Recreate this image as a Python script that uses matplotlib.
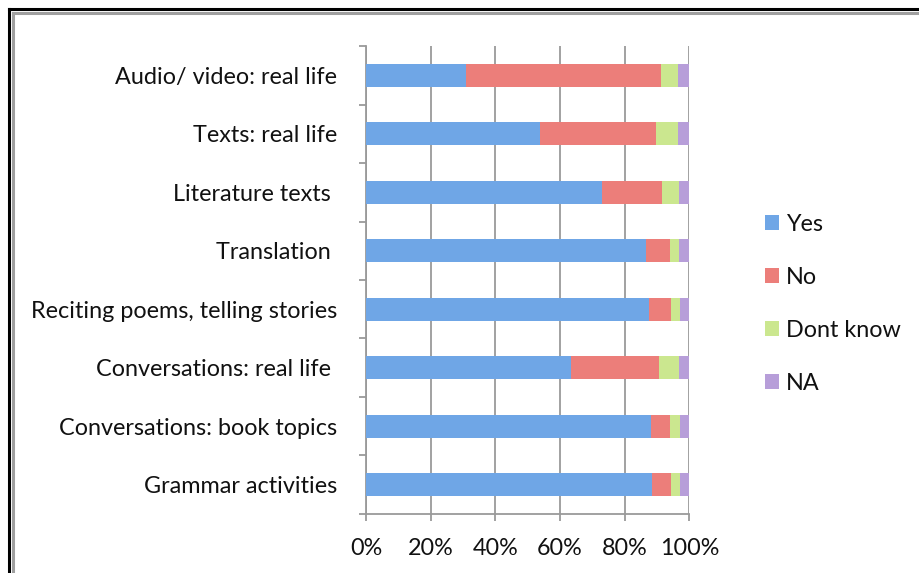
"""Stacked share of answers per classroom activity"""
import matplotlib
matplotlib.use("Agg")
import matplotlib.pyplot as plt
from matplotlib.lines import Line2D
from matplotlib.ticker import MultipleLocator, PercentFormatter

activities = [
    "Grammar activities",
    "Conversations: book topics",
    "Conversations: real life ",
    "Reciting poems, telling stories",
    "Translation ",
    "Literature texts ",
    "Texts: real life",
    "Audio/ video: real life",
]
answers = ["Yes", "No", "Dont know", "NA"]

# percent of respondents, bottom row first
yes = [88.4, 88.0, 63.5, 87.6, 86.5, 72.9, 53.8, 30.8]
no = [5.9, 6.0, 27.1, 6.7, 7.4, 18.7, 35.9, 60.4]
dont_know = [2.8, 3.1, 6.2, 2.8, 3.0, 5.1, 6.9, 5.4]
na = [2.9, 2.9, 3.2, 2.9, 3.1, 3.3, 3.4, 3.4]

colors = ["#6fa6e6", "#ec7e7a", "#cbe78f", "#b79ed9"]
FS = 16.8

plt.rcParams["font.family"] = ["Lato", "DejaVu Sans"]

fig = plt.figure(figsize=(9.2, 5.73), dpi=100)
ax = fig.add_axes([0.3978, 0.1030, 0.3515, 0.8167])

left = [0.0] * len(activities)
for name, vals, col in zip(answers, [yes, no, dont_know, na], colors):
    ax.barh(range(len(activities)), vals, left=left, height=0.4,
            color=col, label=name, zorder=3)
    left = [a + b for a, b in zip(left, vals)]

ax.set_xlim(0, 100)
ax.set_ylim(-0.5, len(activities) - 0.5)
ax.xaxis.set_major_locator(MultipleLocator(20))
ax.xaxis.set_major_formatter(PercentFormatter(decimals=0))
ax.grid(axis="x", color="#9a9a9a", linewidth=1.3, zorder=0)

ax.set_yticks(range(len(activities)))
ax.set_yticklabels(activities)
ax.set_yticks([i - 0.5 for i in range(len(activities) + 1)], minor=True)
ax.tick_params(axis="y", which="major", length=0, pad=21, labelsize=FS,
               labelcolor="#111111")
ax.tick_params(axis="y", which="minor", length=5, width=1.3, color="#9a9a9a")
ax.tick_params(axis="x", length=5, width=1.3, color="#9a9a9a", pad=12,
               labelsize=FS, labelcolor="#111111")

for side in ("top", "right"):
    ax.spines[side].set_visible(False)
for side in ("left", "bottom"):
    ax.spines[side].set_color("#9a9a9a")
    ax.spines[side].set_linewidth(1.3)

fig.legend(loc="upper left", bbox_to_anchor=(0.8215, 0.643), frameon=False,
           fontsize=FS, handlelength=0.6, handleheight=0.62,
           handletextpad=0.28, labelspacing=1.37, borderaxespad=0,
           labelcolor="#111111")

# frame around the chart area
w, h = fig.bbox.width, fig.bbox.height
for off, col, lw in [(9, "black", 2.2), (13, "#a0a0a0", 2.2)]:
    fig.add_artist(Line2D([off / w, off / w], [0, 1 - off / h], color=col,
                          linewidth=lw, transform=fig.transFigure))
    fig.add_artist(Line2D([off / w, 1], [1 - off / h, 1 - off / h], color=col,
                          linewidth=lw, transform=fig.transFigure))

fig.savefig("out.png", dpi=100)
